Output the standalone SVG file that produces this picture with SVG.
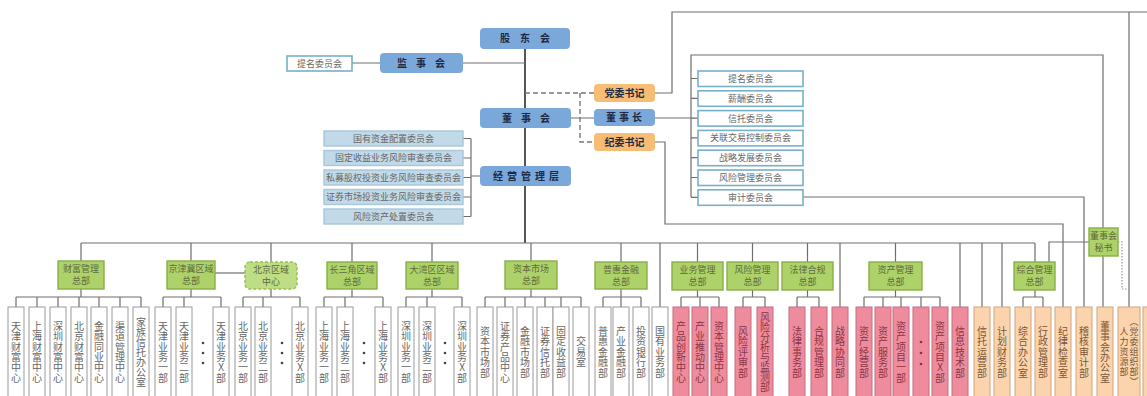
<svg xmlns="http://www.w3.org/2000/svg" width="1147" height="396" viewBox="0 0 1147 396">
<style>
text{font-family:"Noto Sans CJK SC","Noto Sans CJK TC",sans-serif}
.c{fill:none;stroke:#6e6e6e;stroke-width:1.2}
.tr{fill:none;stroke:#555;stroke-width:2}
.dsh{fill:none;stroke:#777;stroke-width:1.4;stroke-dasharray:5 3}
.dot{fill:none;stroke:#999;stroke-width:1.2;stroke-dasharray:1.5 1.5}
.bl rect{fill:#7BA8DB}
.or1 rect{fill:#F8BD74}
.tb{font-size:10px;font-weight:bold;fill:#1e2a44}
.tbm{font-size:10px;font-weight:bold;fill:#1e2a44;text-anchor:middle}
.cm rect{fill:#fff;stroke:#78AFCB;stroke-width:1.6}
.cm text,.lc text{font-size:9px;fill:#666;text-anchor:middle}
.lc rect{fill:#C2DAE8;stroke:#A7C7DA;stroke-width:1.4}
.g rect{fill:#AED26A;stroke:#89AE48;stroke-width:1.4}
.g text{font-size:9px;fill:#5e6a3e;text-anchor:middle}
.gd rect{fill:#BFDD84;stroke:#94BE4E;stroke-width:1.4;stroke-dasharray:3 2}
.gd text{font-size:9px;fill:#5e6a3e;text-anchor:middle}
.v{text-anchor:middle;font-size:10px}
.v9{text-anchor:middle;font-size:9px}
.w rect{fill:#fff;stroke:#9a9a9a;stroke-width:1}
.w text{fill:#666}
.p rect{fill:#EE8C9D;stroke:#C46D7F;stroke-width:1}
.p text{fill:#8a3444}
.o rect{fill:#FBD4AE;stroke:#CFA47C;stroke-width:1}
.o text{fill:#7a5636}
.dt{fill:#444}
.dtp{fill:#9a2a45}
</style>

<g id="connectors">
  <path class="tr" d="M525,49 V243"/>
  <path class="c" d="M352,63 H380 M463,63 H525"/>
  <path class="dsh" d="M525,93 H594 M580,93 V142 H594"/>
  <path class="c" d="M571,118 H594 M655,118 H691"/>
  <path class="c" d="M655,93 H672 V12 H1147 M1129,12 V307"/>
  <path class="c" d="M691,197 V55 H1103 V228"/>
  <path class="c" d="M691,78.5 H698 M691,98.3 H698 M691,118.1 H698 M691,137.9 H698 M691,157.7 H698 M691,177.5 H698 M691,197.3 H698"/>
  <path class="c" d="M803,197 H1084 V307"/>
  <path class="c" d="M655,142 H665 V224 H1063 V307"/>
  <path class="c" d="M1103,256 V307"/>
  <path class="dot" d="M1118,242 H1122 V289 H1129"/>
  <path class="c" d="M1049,262 V242 H1089"/>
  <path class="c" d="M463,138.5 H471 M463,158 H471 M463,177.5 H471 M463,197 H471 M463,216.5 H471 M471,138.5 V216.5 M471,176 H480"/>
  <path class="c" d="M81,243 H1035"/>
  <path class="c" d="M81,243 V261 M191,243 V261 M271,243 V262 M352,243 V262 M432,243 V262 M531,243 V261 M621,243 V262 M660,243 V307 M697.5,243 V262 M752.5,243 V262 M807.5,243 V262 M840,243 V307 M895.5,243 V262 M960,243 V307 M982,243 V307 M1002,243 V307 M1035,243 V262"/>
  <path class="c" d="M215,273 H245"/>
  <path class="c" d="M81,289 V297 M16,297 H141 M16,297 V307 M37,297 V307 M58,297 V307 M79,297 V307 M99,297 V307 M120,297 V307 M141,297 V307"/>
  <path class="c" d="M191,289 V297 M163,297 H221 M163,297 V307 M184,297 V307 M221,297 V307"/>
  <path class="c" d="M271,289 V297 M243,297 H300 M243,297 V307 M263,297 V307 M300,297 V307"/>
  <path class="c" d="M352,289 V297 M324,297 H383 M324,297 V307 M345,297 V307 M383,297 V307"/>
  <path class="c" d="M432,289 V297 M406,297 H462 M406,297 V307 M427,297 V307 M462,297 V307"/>
  <path class="c" d="M531,289 V297 M485,297 H581 M485,297 V307 M505,297 V307 M525,297 V307 M545,297 V307 M561,297 V307 M581,297 V307"/>
  <path class="c" d="M621,289 V297 M603,297 H641 M603,297 V307 M621,297 V307 M641,297 V307"/>
  <path class="c" d="M697.5,290 V297 M681,297 H719 M681,297 V307 M700,297 V307 M719,297 V307"/>
  <path class="c" d="M752.5,290 V297 M743,297 H765 M743,297 V307 M765,297 V307"/>
  <path class="c" d="M807.5,290 V297 M797,297 H819 M797,297 V307 M819,297 V307"/>
  <path class="c" d="M895.5,290 V297 M864,297 H940 M864,297 V307 M883,297 V307 M901,297 V307 M921,297 V307 M940,297 V307"/>
  <path class="c" d="M1035,290 V297 M1023,297 H1043 M1023,297 V307 M1043,297 V307"/>
</g>

<g id="n-gudong" class="bl"><rect x="480" y="28" width="90" height="21" rx="4"/><text class="tb" x="500 520 540" y="42">股东会</text></g>
<g id="n-jianshi" class="bl"><rect x="380" y="53" width="83" height="20" rx="4"/><text class="tb" x="397 416 435" y="66.5">监事会</text></g>
<g id="n-timing-l" class="cm"><rect x="287" y="56" width="65" height="15"/><text x="319.5" y="66.5">提名委员会</text></g>
<g id="n-dongshi" class="bl"><rect x="480" y="108" width="91" height="20" rx="4"/><text class="tb" x="502 521 540" y="121.5">董事会</text></g>
<g id="n-jingying" class="bl"><rect x="480" y="166" width="91" height="20" rx="4"/><text class="tb" x="493 507 521 535 549" y="179.5">经营管理层</text></g>
<g id="n-dangwei" class="or1"><rect x="594" y="84" width="61" height="18" rx="4"/><text class="tbm" x="624.5" y="96.5">党委书记</text></g>
<g id="n-dsz" class="bl"><rect x="594" y="109" width="61" height="17" rx="4"/><text class="tb" x="606 619 632" y="121">董事长</text></g>
<g id="n-jiwei" class="or1"><rect x="594" y="133" width="61" height="18" rx="4"/><text class="tbm" x="624.5" y="145.5">纪委书记</text></g>

<g id="rc-1" class="cm"><rect x="698" y="71" width="105" height="15.5"/><text x="750.5" y="82">提名委员会</text></g>
<g id="rc-2" class="cm"><rect x="698" y="90.8" width="105" height="15.5"/><text x="750.5" y="101.8">薪酬委员会</text></g>
<g id="rc-3" class="cm"><rect x="698" y="110.6" width="105" height="15.5"/><text x="750.5" y="121.6">信托委员会</text></g>
<g id="rc-4" class="cm"><rect x="698" y="130.4" width="105" height="15.5"/><text x="750.5" y="141.4">关联交易控制委员会</text></g>
<g id="rc-5" class="cm"><rect x="698" y="150.2" width="105" height="15.5"/><text x="750.5" y="161.2">战略发展委员会</text></g>
<g id="rc-6" class="cm"><rect x="698" y="170" width="105" height="15.5"/><text x="750.5" y="181">风险管理委员会</text></g>
<g id="rc-7" class="cm"><rect x="698" y="189.8" width="105" height="15.5"/><text x="750.5" y="200.8">审计委员会</text></g>

<g id="lc-1" class="lc"><rect x="324" y="131" width="139" height="15"/><text x="393.5" y="141.8">国有资金配置委员会</text></g>
<g id="lc-2" class="lc"><rect x="324" y="150.5" width="139" height="15"/><text x="393.5" y="161.3">固定收益业务风险审查委员会</text></g>
<g id="lc-3" class="lc"><rect x="324" y="170" width="139" height="15"/><text x="393.5" y="180.8">私募股权投资业务风险审查委员会</text></g>
<g id="lc-4" class="lc"><rect x="324" y="189.5" width="139" height="15"/><text x="393.5" y="200.3">证券市场投资业务风险审查委员会</text></g>
<g id="lc-5" class="lc"><rect x="324" y="209" width="139" height="15"/><text x="393.5" y="219.8">风险资产处置委员会</text></g>

<g id="g-caifu" class="g"><rect x="58" y="261" width="46" height="28"/><text x="81" y="272">财富管理</text><text x="81" y="284">总部</text></g>
<g id="g-jjj" class="g"><rect x="167" y="261" width="48" height="28"/><text x="191" y="272">京津冀区域</text><text x="191" y="284">总部</text></g>
<g id="g-bj" class="gd"><rect x="245" y="262" width="52" height="27" rx="5"/><text x="271" y="272.5">北京区域</text><text x="271" y="284.5">中心</text></g>
<g id="g-csj" class="g"><rect x="327" y="262" width="50" height="27"/><text x="352" y="272.5">长三角区域</text><text x="352" y="284.5">总部</text></g>
<g id="g-dwq" class="g"><rect x="406" y="262" width="52" height="27"/><text x="432" y="272.5">大湾区区域</text><text x="432" y="284.5">总部</text></g>
<g id="g-zbsc" class="g"><rect x="505" y="261" width="52" height="28"/><text x="531" y="272">资本市场</text><text x="531" y="284">总部</text></g>
<g id="g-phjr" class="g"><rect x="595" y="262" width="52" height="27"/><text x="621" y="272.5">普惠金融</text><text x="621" y="284.5">总部</text></g>
<g id="g-ywgl" class="g"><rect x="672" y="262" width="51" height="28"/><text x="697.5" y="273">业务管理</text><text x="697.5" y="285">总部</text></g>
<g id="g-fxgl" class="g"><rect x="727" y="262" width="51" height="28"/><text x="752.5" y="273">风险管理</text><text x="752.5" y="285">总部</text></g>
<g id="g-flhg" class="g"><rect x="782" y="262" width="51" height="28"/><text x="807.5" y="273">法律合规</text><text x="807.5" y="285">总部</text></g>
<g id="g-zcgl" class="g"><rect x="869" y="262" width="53" height="28"/><text x="895.5" y="273">资产管理</text><text x="895.5" y="285">总部</text></g>
<g id="g-zhgl" class="g"><rect x="1014" y="262" width="41" height="28"/><text x="1034.5" y="273">综合管理</text><text x="1034.5" y="285">总部</text></g>
<g id="g-mishu" class="g"><rect x="1089" y="228" width="29" height="28"/><text x="1103.5" y="239">董事会</text><text x="1103.5" y="251">秘书</text></g>

<g id="w1" class="w"><rect x="8" y="307" width="16" height="100"/><text class="v" x="16 16 16 16 16 16" y="329.8 340.2 350.6 361 371.4 381.8">天津财富中心</text></g>
<g id="w2" class="w"><rect x="29" y="307" width="16" height="100"/><text class="v" x="37 37 37 37 37 37" y="329.8 340.2 350.6 361 371.4 381.8">上海财富中心</text></g>
<g id="w3" class="w"><rect x="50" y="307" width="16" height="100"/><text class="v" x="58 58 58 58 58 58" y="329.8 340.2 350.6 361 371.4 381.8">深圳财富中心</text></g>
<g id="w4" class="w"><rect x="71" y="307" width="16" height="100"/><text class="v" x="79 79 79 79 79 79" y="329.8 340.2 350.6 361 371.4 381.8">北京财富中心</text></g>
<g id="w5" class="w"><rect x="91" y="307" width="16" height="100"/><text class="v" x="99 99 99 99 99 99" y="329.8 340.2 350.6 361 371.4 381.8">金融同业中心</text></g>
<g id="w6" class="w"><rect x="112" y="307" width="16" height="100"/><text class="v" x="120 120 120 120 120 120" y="329.8 340.2 350.6 361 371.4 381.8">渠道管理中心</text></g>
<g id="w7" class="w"><rect x="133" y="307" width="16" height="100"/><text class="v" x="141 141 141 141 141 141 141" y="325.8 335.8 345.8 355.8 365.8 375.8 385.8">家族信托办公室</text></g>

<g id="w8" class="w"><rect x="155" y="307" width="16" height="100"/><text class="v" x="163 163 163 163 163 163" y="329.8 340.2 350.6 361 371.4 381.8">天津业务一部</text></g>
<g id="w9" class="w"><rect x="176" y="307" width="16" height="100"/><text class="v" x="184 184 184 184 184 184" y="329.8 340.2 350.6 361 371.4 381.8">天津业务二部</text></g>
<g id="d1"><circle class="dt" cx="203" cy="343" r="1.3"/><circle class="dt" cx="203" cy="353" r="1.3"/><circle class="dt" cx="203" cy="363" r="1.3"/></g>
<g id="w10" class="w"><rect x="213" y="307" width="16" height="100"/><text class="v" x="221 221 221 221 221 221" y="329.8 340.2 350.6 361 371.4 381.8">天津业务X部</text></g>

<g id="w11" class="w"><rect x="235" y="307" width="16" height="100"/><text class="v" x="243 243 243 243 243 243" y="329.8 340.2 350.6 361 371.4 381.8">北京业务一部</text></g>
<g id="w12" class="w"><rect x="255" y="307" width="16" height="100"/><text class="v" x="263 263 263 263 263 263" y="329.8 340.2 350.6 361 371.4 381.8">北京业务二部</text></g>
<g id="d2"><circle class="dt" cx="282" cy="343" r="1.3"/><circle class="dt" cx="282" cy="353" r="1.3"/><circle class="dt" cx="282" cy="363" r="1.3"/></g>
<g id="w13" class="w"><rect x="292" y="307" width="16" height="100"/><text class="v" x="300 300 300 300 300 300" y="329.8 340.2 350.6 361 371.4 381.8">北京业务X部</text></g>

<g id="w14" class="w"><rect x="316" y="307" width="16" height="100"/><text class="v" x="324 324 324 324 324 324" y="329.8 340.2 350.6 361 371.4 381.8">上海业务一部</text></g>
<g id="w15" class="w"><rect x="337" y="307" width="16" height="100"/><text class="v" x="345 345 345 345 345 345" y="329.8 340.2 350.6 361 371.4 381.8">上海业务二部</text></g>
<g id="d3"><circle class="dt" cx="364" cy="343" r="1.3"/><circle class="dt" cx="364" cy="353" r="1.3"/><circle class="dt" cx="364" cy="363" r="1.3"/></g>
<g id="w16" class="w"><rect x="375" y="307" width="16" height="100"/><text class="v" x="383 383 383 383 383 383" y="329.8 340.2 350.6 361 371.4 381.8">上海业务X部</text></g>

<g id="w17" class="w"><rect x="398" y="307" width="16" height="100"/><text class="v" x="406 406 406 406 406 406" y="329.8 340.2 350.6 361 371.4 381.8">深圳业务一部</text></g>
<g id="w18" class="w"><rect x="419" y="307" width="16" height="100"/><text class="v" x="427 427 427 427 427 427" y="329.8 340.2 350.6 361 371.4 381.8">深圳业务二部</text></g>
<g id="d4"><circle class="dt" cx="445" cy="343" r="1.3"/><circle class="dt" cx="445" cy="353" r="1.3"/><circle class="dt" cx="445" cy="363" r="1.3"/></g>
<g id="w19" class="w"><rect x="454" y="307" width="16" height="100"/><text class="v" x="462 462 462 462 462 462" y="329.8 340.2 350.6 361 371.4 381.8">深圳业务X部</text></g>

<g id="w20" class="w"><rect x="477" y="307" width="16" height="100"/><text class="v" x="485 485 485 485 485" y="335 345.4 355.8 366.2 376.6">资本市场部</text></g>
<g id="w21" class="w"><rect x="497" y="307" width="16" height="100"/><text class="v" x="505 505 505 505 505 505" y="329.8 340.2 350.6 361 371.4 381.8">证券产品中心</text></g>
<g id="w22" class="w"><rect x="517" y="307" width="16" height="100"/><text class="v" x="525 525 525 525 525" y="335 345.4 355.8 366.2 376.6">金融市场部</text></g>
<g id="w23" class="w"><rect x="537" y="307" width="16" height="100"/><text class="v" x="545 545 545 545 545" y="335 345.4 355.8 366.2 376.6">证券信托部</text></g>
<g id="w24" class="w"><rect x="553" y="307" width="16" height="100"/><text class="v" x="561 561 561 561 561" y="335 345.4 355.8 366.2 376.6">固定收益部</text></g>
<g id="w25" class="w"><rect x="573" y="307" width="16" height="100"/><text class="v" x="581 581 581" y="345.4 355.8 366.2">交易室</text></g>

<g id="w26" class="w"><rect x="595" y="307" width="16" height="100"/><text class="v" x="603 603 603 603 603" y="335 345.4 355.8 366.2 376.6">普惠金融部</text></g>
<g id="w27" class="w"><rect x="613" y="307" width="16" height="100"/><text class="v" x="621 621 621 621 621" y="335 345.4 355.8 366.2 376.6">产业金融部</text></g>
<g id="w28" class="w"><rect x="633" y="307" width="16" height="100"/><text class="v" x="641 641 641 641 641" y="335 345.4 355.8 366.2 376.6">投资银行部</text></g>
<g id="w29" class="w"><rect x="652" y="307" width="16" height="100"/><text class="v" x="660 660 660 660 660" y="335 345.4 355.8 366.2 376.6">国有业务部</text></g>

<g id="p1" class="p"><rect x="673" y="307" width="16" height="100"/><text class="v" x="681 681 681 681 681 681" y="329.8 340.2 350.6 361 371.4 381.8">产品创新中心</text></g>
<g id="p2" class="p"><rect x="692" y="307" width="16" height="100"/><text class="v" x="700 700 700 700 700 700" y="329.8 340.2 350.6 361 371.4 381.8">产业推动中心</text></g>
<g id="p3" class="p"><rect x="711" y="307" width="16" height="100"/><text class="v" x="719 719 719 719 719 719" y="329.8 340.2 350.6 361 371.4 381.8">资本管理中心</text></g>
<g id="p4" class="p"><rect x="735" y="307" width="16" height="100"/><text class="v" x="743 743 743 743 743" y="335 345.4 355.8 366.2 376.6">风险评审部</text></g>
<g id="p5" class="p"><rect x="757" y="307" width="16" height="100"/><text class="v" x="765 765 765 765 765 765 765 765" y="320.8 330.8 340.8 350.8 360.8 370.8 380.8 390.8">风险分析与监测部</text></g>
<g id="p6" class="p"><rect x="789" y="307" width="16" height="100"/><text class="v" x="797 797 797 797 797" y="335 345.4 355.8 366.2 376.6">法律事务部</text></g>
<g id="p7" class="p"><rect x="811" y="307" width="16" height="100"/><text class="v" x="819 819 819 819 819" y="335 345.4 355.8 366.2 376.6">合规管理部</text></g>
<g id="p8" class="p"><rect x="832" y="307" width="16" height="100"/><text class="v" x="840 840 840 840 840" y="335 345.4 355.8 366.2 376.6">战略协同部</text></g>
<g id="p9" class="p"><rect x="856" y="307" width="16" height="100"/><text class="v" x="864 864 864 864 864" y="335 345.4 355.8 366.2 376.6">资产经营部</text></g>
<g id="p10" class="p"><rect x="875" y="307" width="16" height="100"/><text class="v" x="883 883 883 883 883" y="335 345.4 355.8 366.2 376.6">资产服务部</text></g>
<g id="p11" class="p"><rect x="893" y="307" width="16" height="100"/><text class="v" x="901 901 901 901 901 901" y="329.8 340.2 350.6 361 371.4 381.8">资产项目一部</text></g>
<g id="p12" class="p"><rect x="913" y="307" width="16" height="100"/><circle class="dtp" cx="921" cy="342" r="1.3"/><circle class="dtp" cx="921" cy="353" r="1.3"/><circle class="dtp" cx="921" cy="364" r="1.3"/></g>
<g id="p13" class="p"><rect x="932" y="307" width="16" height="100"/><text class="v" x="940 940 940 940 940 940" y="329.8 340.2 350.6 361 371.4 381.8">资产项目X部</text></g>
<g id="p14" class="p"><rect x="952" y="307" width="16" height="100"/><text class="v" x="960 960 960 960 960" y="335 345.4 355.8 366.2 376.6">信息技术部</text></g>

<g id="o1" class="o"><rect x="974" y="307" width="16" height="100"/><text class="v" x="982 982 982 982 982" y="335 345.4 355.8 366.2 376.6">信托运营部</text></g>
<g id="o2" class="o"><rect x="994" y="307" width="16" height="100"/><text class="v" x="1002 1002 1002 1002 1002" y="335 345.4 355.8 366.2 376.6">计划财务部</text></g>
<g id="o3" class="o"><rect x="1015" y="307" width="16" height="100"/><text class="v" x="1023 1023 1023 1023 1023" y="335 345.4 355.8 366.2 376.6">综合办公室</text></g>
<g id="o4" class="o"><rect x="1035" y="307" width="16" height="100"/><text class="v" x="1043 1043 1043 1043 1043" y="335 345.4 355.8 366.2 376.6">行政管理部</text></g>
<g id="o5" class="o"><rect x="1055" y="307" width="16" height="100"/><text class="v" x="1063 1063 1063 1063 1063" y="335 345.4 355.8 366.2 376.6">纪律检查室</text></g>
<g id="o6" class="o"><rect x="1076" y="307" width="16" height="100"/><text class="v" x="1084 1084 1084 1084 1084" y="335 345.4 355.8 366.2 376.6">稽核审计部</text></g>
<g id="o7" class="o"><rect x="1097" y="307" width="16" height="100"/><text class="v" x="1105 1105 1105 1105 1105 1105" y="329.8 340.2 350.6 361 371.4 381.8">董事会办公室</text></g>
<g id="o8" class="o"><rect x="1118" y="307" width="22" height="100"/><text class="v9" x="1124 1124 1124 1124 1124" y="335.4 345.4 355.4 365.4 375.4">人力资源部</text><text class="v9" x="1134 1134 1134 1134 1134 1134 1134" y="325.4 335.4 345.4 355.4 365.4 375.4 385.4">︵党委组织部︶</text></g>
<g id="o9" class="o"><rect x="1143" y="307" width="20" height="100"/></g>
</svg>
